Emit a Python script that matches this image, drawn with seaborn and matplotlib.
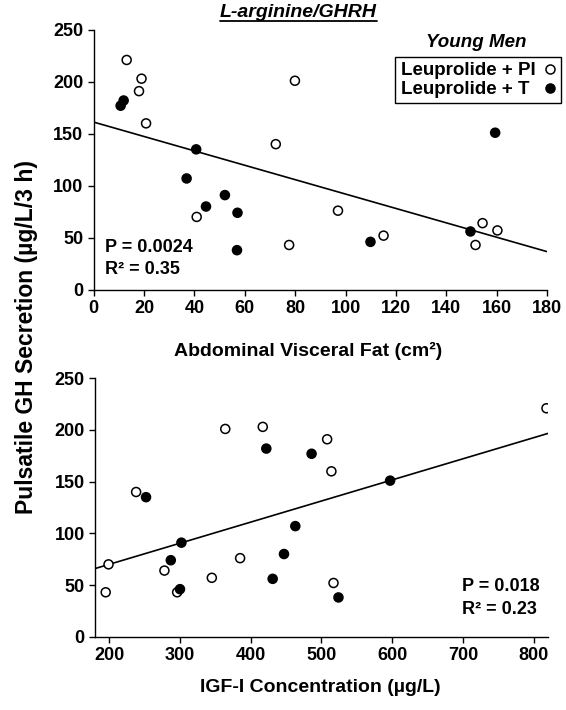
import numpy as np
import pandas as pd
import matplotlib
matplotlib.use("Agg")
import matplotlib.pyplot as plt
import seaborn as sns
from matplotlib.lines import Line2D

# ---------------- data ----------------
groups = ["Leuprolide + PI", "Leuprolide + T"]

# Top panel: abdominal visceral fat (cm2) vs pulsatile GH (ug/L/3 h)
fat_pi = [13.1, 19.0, 18.0, 20.8, 79.9, 72.3, 40.9, 77.6, 97.0, 115.1, 154.4, 151.6, 160.3]
gh_fat_pi = [221, 203, 191, 160, 201, 140, 70, 43, 76, 52, 64, 43, 57]
fat_t = [10.7, 11.9, 40.7, 36.9, 52.1, 44.6, 57.1, 56.9, 109.9, 149.6, 159.4]
gh_fat_t = [177, 182, 135, 107, 91, 80, 74, 38, 46, 56, 151]

# Bottom panel: IGF-I (ug/L) vs pulsatile GH
igf_pi = [195, 199, 238, 278, 296, 345, 364, 385, 417, 508, 514, 517, 818]
gh_igf_pi = [43, 70, 140, 64, 43, 57, 201, 76, 203, 191, 160, 52, 221]
igf_t = [252, 302, 287, 300, 422, 486, 463, 447, 431, 524, 597]
gh_igf_t = [135, 91, 74, 46, 182, 177, 107, 80, 56, 38, 151]

stats_top = ["P = 0.0024", "R² = 0.35"]
stats_bot = ["P = 0.018", "R² = 0.23"]
xticks_top = list(range(0, 181, 20))
xticks_bot = list(range(200, 801, 100))
yticks = list(range(0, 251, 50))

# ---------------- style ----------------
sns.set_style("ticks")
plt.rcParams["font.family"] = ["Liberation Sans", "DejaVu Sans"]
plt.rcParams["font.weight"] = "bold"
plt.rcParams["axes.labelweight"] = "bold"
plt.rcParams["axes.linewidth"] = 1.0
plt.rcParams["xtick.major.width"] = 1.0
plt.rcParams["ytick.major.width"] = 1.0
plt.rcParams["xtick.major.size"] = 4
plt.rcParams["ytick.major.size"] = 4
plt.rcParams["xtick.color"] = "black"
plt.rcParams["ytick.color"] = "black"
plt.rcParams["axes.edgecolor"] = "black"
plt.rcParams["text.color"] = "black"
plt.rcParams["axes.labelcolor"] = "black"

palette = {groups[0]: "white", groups[1]: "black"}

fig = plt.figure(figsize=(5.66, 7.10), dpi=100)
ax1 = fig.add_axes([0.1655, 0.592, 0.801, 0.366])
ax2 = fig.add_axes([0.168, 0.1032, 0.800, 0.364])


def panel(ax, x_pi, y_pi, x_t, y_t, xlim, xticks):
    df = pd.DataFrame({
        "x": list(x_pi) + list(x_t),
        "y": list(y_pi) + list(y_t),
        "group": [groups[0]] * len(x_pi) + [groups[1]] * len(x_t),
    })
    ax.set_xlim(*xlim)
    ax.set_ylim(0, 250)
    sns.regplot(data=df, x="x", y="y", scatter=False, ci=None, truncate=False,
                ax=ax, line_kws=dict(color="black", lw=1.2, zorder=1))
    sns.scatterplot(data=df, x="x", y="y", hue="group", palette=palette,
                    edgecolor="black", linewidth=1.1, s=42, legend=False,
                    ax=ax, zorder=3)
    ax.set_xlim(*xlim)
    ax.set_ylim(0, 250)
    ax.set_xticks(xticks)
    ax.set_yticks(yticks)
    ax.tick_params(labelsize=13, direction="out", colors="black")
    for lab in ax.get_xticklabels() + ax.get_yticklabels():
        lab.set_fontweight("bold")
    ax.set_xlabel("")
    ax.set_ylabel("")
    sns.despine(ax=ax)
    return df


panel(ax1, fat_pi, gh_fat_pi, fat_t, gh_fat_t, (0, 180), xticks_top)
panel(ax2, igf_pi, gh_igf_pi, igf_t, gh_igf_t, (180, 820), xticks_bot)

# statistics text
ax1.text(0.025, 0.162, stats_top[0], transform=ax1.transAxes, fontsize=13,
         fontweight="bold", va="center", ha="left")
ax1.text(0.025, 0.077, stats_top[1], transform=ax1.transAxes, fontsize=13,
         fontweight="bold", va="center", ha="left")
ax2.text(0.811, 0.195, stats_bot[0], transform=ax2.transAxes, fontsize=13,
         fontweight="bold", va="center", ha="left")
ax2.text(0.811, 0.106, stats_bot[1], transform=ax2.transAxes, fontsize=13,
         fontweight="bold", va="center", ha="left")

# legend: labels in first column (left aligned), markers in second column
blank = Line2D([], [], ls="none", marker=None)
handles = [
    blank, blank,
    Line2D([], [], ls="none", marker="o", markersize=6.5, mfc="white", mec="black", mew=1.1),
    Line2D([], [], ls="none", marker="o", markersize=6.5, mfc="black", mec="black", mew=1.1),
]
labels = [groups[0], groups[1], " ", " "]
leg = ax1.legend(handles, labels, ncol=2, loc="upper right", bbox_to_anchor=(1.03, 0.894),
                 borderaxespad=0, markerfirst=True, frameon=True, fancybox=False,
                 edgecolor="black", prop=dict(size=13.5, weight="bold"),
                 borderpad=0.25, labelspacing=0.1, handlelength=0.0,
                 handletextpad=0.05, columnspacing=0.75)
leg.get_frame().set_linewidth(1.0)
leg.get_frame().set_alpha(1)

ax1.text(0.843, 0.951, "Young Men", transform=ax1.transAxes, fontsize=13.5,
         fontweight="bold", style="italic", ha="center", va="center")

# axis labels
fig.text(308 / 566, 1 - 351 / 710, "Abdominal Visceral Fat (cm²)", fontsize=14,
         fontweight="bold", ha="center", va="center")
fig.text(320 / 566, 1 - 688 / 710, "IGF-I Concentration (µg/L)", fontsize=14,
         fontweight="bold", ha="center", va="center")
fig.text(27 / 566, 1 - 337 / 710, "Pulsatile GH Secretion (µg/L/3 h)", fontsize=16.5,
         fontweight="bold", ha="center", va="center", rotation=90)

# title with underline
title = fig.text(298 / 566, 1 - 12.5 / 710, "L-arginine/GHRH", fontsize=14,
                 fontweight="bold", style="italic", ha="center", va="center")
fig.canvas.draw()
bb = title.get_window_extent(renderer=fig.canvas.get_renderer())
inv = fig.transFigure.inverted()
(x0, y0), (x1, y1) = inv.transform([[bb.x0, bb.y0], [bb.x1, bb.y1]])
fig.add_artist(Line2D([x0, x1], [y0 + 0.0005, y0 + 0.0005], transform=fig.transFigure,
                      color="black", lw=1.3))

fig.savefig("out.png", dpi=100)
